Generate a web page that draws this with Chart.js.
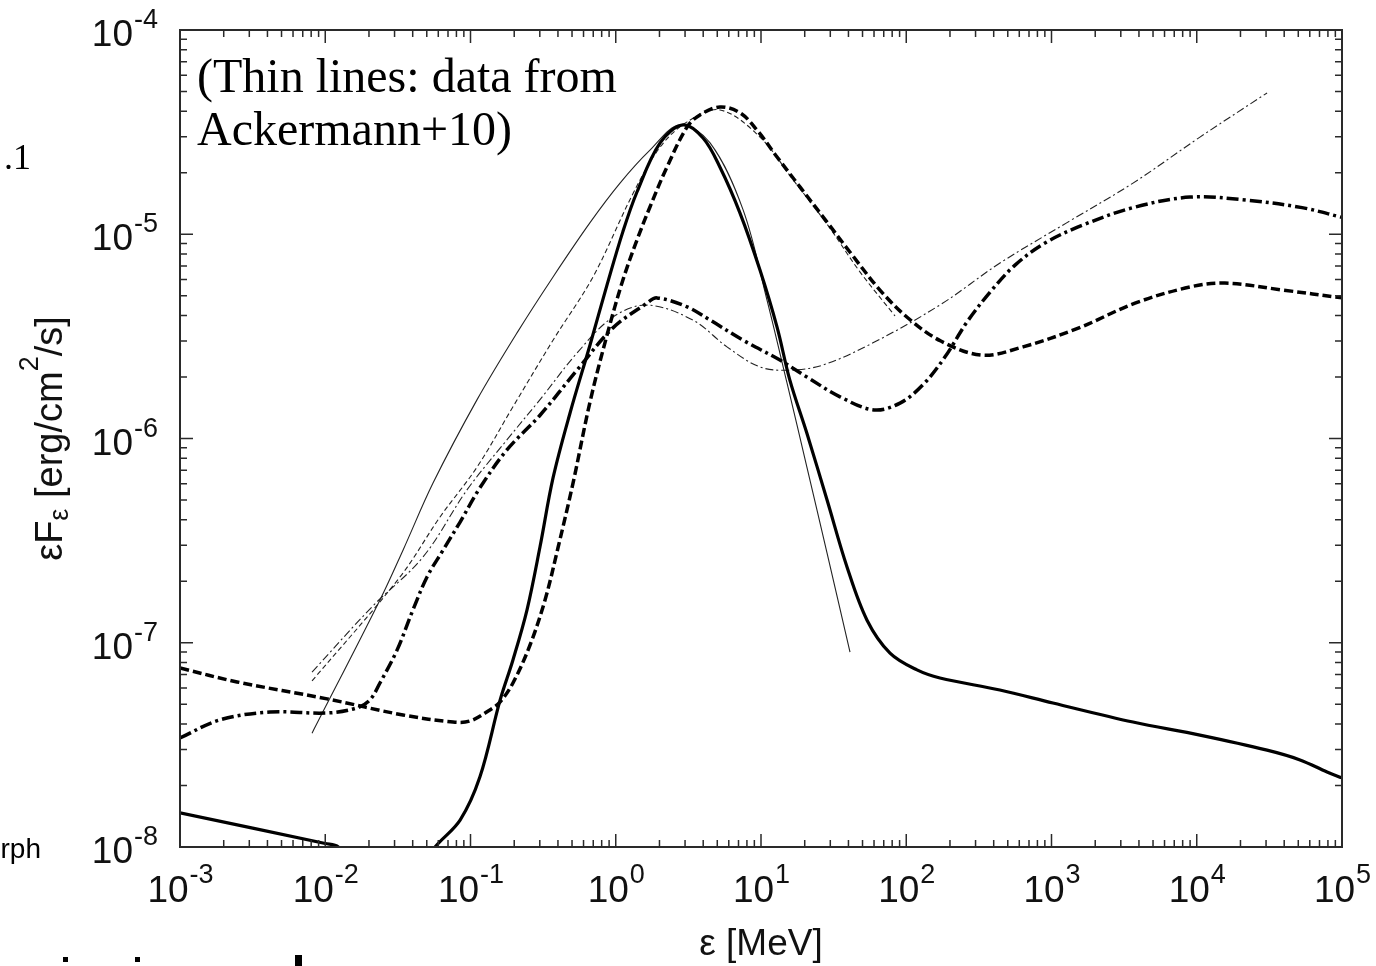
<!DOCTYPE html>
<html>
<head>
<meta charset="utf-8">
<script src="https://cdn.jsdelivr.net/npm/chart.js@4.4.1/dist/chart.umd.min.js"></script>
<style>
  html, body { margin: 0; padding: 0; background: #fff; }
  canvas { display: block; }
</style>
</head>
<body>
<canvas id="sed" width="1376" height="966"></canvas>
<script>
// Photon spectra eF_e vs e (MeV). Thick = model, thin = data (Ackermann+10).

// thick solid
const E_MODEL_A = [1e-3, 0.01, 0.0123, 0.025, 0.04, 0.057, 0.0848, 0.116, 0.16, 0.196, 0.245, 0.301, 0.37, 0.484, 0.665, 0.871, 1.12, 1.40, 2.02, 2.9, 3.99, 5.22, 7.17, 9.84, 12.9, 15.8, 20.7, 28.5, 39.1, 53.7, 77.3, 118.6, 170.6, 441, 1023, 3640, 10520, 30480, 51400, 78900, 1e5];
const F_MODEL_A = [1.47e-8, 1.04e-8, 1.0e-8, 6e-9, 7e-9, 1.0e-8, 1.355e-8, 2.2e-8, 5.25e-8, 8.24e-8, 1.45e-7, 2.95e-7, 6.41e-7, 1.33e-6, 2.87e-6, 5.65e-6, 1.03e-5, 1.61e-5, 2.8e-5, 3.43e-5, 2.96e-5, 2.13e-5, 1.27e-5, 6.68e-6, 3.51e-6, 1.93e-6, 1.06e-6, 5.0e-7, 2.35e-7, 1.29e-7, 8.9e-8, 7.36e-8, 6.72e-8, 5.87e-8, 5.07e-8, 4.09e-8, 3.53e-8, 2.98e-8, 2.67e-8, 2.33e-8, 2.18e-8];

// thick dashed
const E_MODEL_B = [1e-3, 0.00247, 0.0103, 0.0343, 0.0759, 0.0993, 0.136, 0.16, 0.196, 0.257, 0.326, 0.400, 0.508, 0.665, 0.871, 1.12, 1.40, 1.72, 2.25, 3.10, 3.80, 5.22, 7.17, 9.37, 12.9, 18.6, 28.4, 43.0, 65.9, 102.8, 173, 333, 637, 1545, 3758, 8995, 15630, 39260, 1e5];
const F_MODEL_B = [7.52e-8, 6.43e-8, 5.31e-8, 4.43e-8, 4.09e-8, 4.14e-8, 4.69e-8, 5.13e-8, 6.35e-8, 9.75e-8, 1.62e-7, 2.91e-7, 6.05e-7, 1.51e-6, 3.21e-6, 5.97e-6, 9.37e-6, 1.36e-5, 2.13e-5, 3.35e-5, 3.84e-5, 4.2e-5, 3.93e-5, 3.24e-5, 2.39e-5, 1.70e-5, 1.15e-5, 7.82e-6, 5.33e-6, 3.89e-6, 3.0e-6, 2.56e-6, 2.81e-6, 3.48e-6, 4.60e-6, 5.52e-6, 5.77e-6, 5.33e-6, 4.88e-6];

// thick dash-dot
const E_MODEL_C = [1e-3, 0.00188, 0.00417, 0.0103, 0.01656, 0.0203, 0.0238, 0.0312, 0.0402, 0.0502, 0.0647, 0.0848, 0.116, 0.178, 0.301, 0.541, 0.957, 1.64, 1.92, 3.10, 4.46, 7.52, 13.5, 20.7, 35.0, 60.0, 90.6, 130, 185, 262, 378, 561, 902, 1648, 3640, 8995, 21830, 53090, 1e5];
const F_MODEL_C = [3.42e-8, 4.19e-8, 4.58e-8, 4.53e-8, 4.80e-8, 5.25e-8, 6.35e-8, 9.2e-8, 1.45e-7, 2.10e-7, 2.84e-7, 3.90e-7, 5.73e-7, 8.79e-7, 1.30e-6, 2.16e-6, 3.48e-6, 4.60e-6, 4.88e-6, 4.41e-6, 3.80e-6, 3.03e-6, 2.42e-6, 2.0e-6, 1.60e-6, 1.38e-6, 1.49e-6, 1.83e-6, 2.51e-6, 3.72e-6, 5.21e-6, 7.06e-6, 9.06e-6, 1.11e-5, 1.35e-5, 1.52e-5, 1.47e-5, 1.35e-5, 1.21e-5];

// thin solid (data)
const E_DATA_A = [0.00811, 0.0238, 0.0343, 0.0552, 0.111, 0.209, 0.37, 0.665, 1.07, 1.72, 2.77, 4.46, 7.52, 11.0, 15.1, 20.7, 28.5, 41.0];
const F_DATA_A = [3.61e-8, 1.62e-7, 2.84e-7, 6.05e-7, 1.55e-6, 3.29e-6, 6.18e-6, 1.14e-5, 1.78e-5, 2.58e-5, 3.43e-5, 2.8e-5, 1.32e-5, 4.76e-6, 1.87e-6, 7.25e-7, 2.75e-7, 9.0e-8];

// thin dashed (data)
const E_DATA_B = [0.00811, 0.0327, 0.0617, 0.111, 0.196, 0.37, 0.697, 1.32, 2.02, 3.10, 5.22, 9.84, 16.6, 28.5, 48.1, 83.7];
const F_DATA_B = [6.5e-8, 2.10e-7, 4.13e-7, 7.25e-7, 1.43e-6, 3.03e-6, 6.18e-6, 1.59e-5, 2.67e-5, 3.55e-5, 4.06e-5, 2.99e-5, 1.85e-5, 1.12e-5, 6.53e-6, 3.98e-6];

// thin dash-dot (data)
const E_DATA_C = [0.00811, 0.021, 0.0471, 0.0946, 0.178, 0.301, 0.541, 0.957, 1.64, 3.40, 5.83, 9.84, 15.8, 26.7, 59.0, 171, 442, 1279, 3640, 10520, 30480];
const F_DATA_C = [7.19e-8, 1.5e-7, 2.63e-7, 5.6e-7, 9.84e-7, 1.55e-6, 2.62e-6, 3.93e-6, 4.5e-6, 3.80e-6, 2.81e-6, 2.24e-6, 2.16e-6, 2.29e-6, 2.94e-6, 4.51e-6, 7.23e-6, 1.14e-5, 1.78e-5, 2.99e-5, 4.92e-5];

const X_TICK_EXP = ["-3", "-2", "-1", "0", "1", "2", "3", "4", "5"];
const Y_TICK_EXP = ["-8", "-7", "-6", "-5", "-4"];

const SANS = '"Liberation Sans", Arial, sans-serif';
const SERIF = '"Liberation Serif", "Times New Roman", serif';
const INK = "#000";
const FRAME = "#2a2a2a";

const pts = (E, F) => E.map((e, i) => ({ x: e, y: F[i] }));

function line(E, F, width, dash, color) {
  return { data: pts(E, F), borderColor: color || INK, borderWidth: width, borderDash: dash || [], pointRadius: 0 };
}

// "10" with a raised exponent; align = "center" | "right"
function drawPow(ctx, exp, x, baseY, supY, align) {
  const fBase = "37px " + SANS, fSup = "27px " + SANS;
  ctx.font = fBase; const wb = ctx.measureText("10").width;
  ctx.font = fSup;  const ws = ctx.measureText(exp).width;
  const left = align === "center" ? x - (wb + ws) / 2 : x - wb - ws;
  ctx.textAlign = "left"; ctx.textBaseline = "alphabetic";
  ctx.font = fBase; ctx.fillText("10", left, baseY);
  ctx.font = fSup;  ctx.fillText(exp, left + wb + 1, supY);
}

// runs of {t, size, dy} laid out along a baseline, centred on 0
function drawRuns(ctx, runs, font) {
  let total = 0;
  for (const r of runs) { ctx.font = r.size + "px " + font; r.w = ctx.measureText(r.t).width; total += r.w; }
  let cx = -total / 2;
  ctx.textAlign = "left"; ctx.textBaseline = "alphabetic";
  for (const r of runs) { ctx.font = r.size + "px " + font; ctx.fillText(r.t, cx, r.dy); cx += r.w; }
}

const frame = {
  id: "frame",
  afterDatasetsDraw(chart) {
    const { ctx, chartArea: a, scales: { x, y } } = chart;
    ctx.save();

    // minor + major ticks, inward on all four sides
    ctx.strokeStyle = FRAME; ctx.lineWidth = 1.5;
    ctx.beginPath();
    for (const e of X_TICK_EXP) {
      const d = Math.pow(10, Number(e));
      for (let k = 1; k < 10; k++) {
        const v = k * d;
        if (v > x.max * 1.0001) break;
        const px = x.getPixelForValue(v);
        const len = k === 1 ? 13 : 7;
        ctx.moveTo(px, a.bottom); ctx.lineTo(px, a.bottom - len);
        ctx.moveTo(px, a.top); ctx.lineTo(px, a.top + len);
      }
    }
    for (const e of Y_TICK_EXP) {
      const d = Math.pow(10, Number(e));
      for (let k = 1; k < 10; k++) {
        const v = k * d;
        if (v > y.max * 1.0001) break;
        const py = y.getPixelForValue(v);
        const len = k === 1 ? 13 : 7;
        ctx.moveTo(a.left, py); ctx.lineTo(a.left + len, py);
        ctx.moveTo(a.right, py); ctx.lineTo(a.right - len, py);
      }
    }
    ctx.stroke();

    ctx.lineWidth = 2;
    ctx.strokeRect(a.left, a.top, a.right - a.left, a.bottom - a.top);

    // tick labels
    ctx.fillStyle = "#111";
    for (const e of X_TICK_EXP) {
      const px = x.getPixelForValue(Math.pow(10, Number(e)));
      drawPow(ctx, e, px, a.bottom + 55, a.bottom + 36, "center");
    }
    for (const e of Y_TICK_EXP) {
      const py = y.getPixelForValue(Math.pow(10, Number(e)));
      drawPow(ctx, e, a.left - 23, py + 16, py - 2, "right");
    }

    // axis titles
    ctx.save();
    ctx.translate((a.left + a.right) / 2, 955);
    drawRuns(ctx, [{ t: "\u03b5 [MeV]", size: 37, dy: 0 }], SANS);
    ctx.restore();

    ctx.save();
    ctx.translate(62, (a.top + a.bottom) / 2);
    ctx.rotate(-Math.PI / 2);
    drawRuns(ctx, [
      { t: "\u03b5F", size: 38, dy: 0 },
      { t: "\u03b5", size: 27, dy: 6 },
      { t: " [erg/cm", size: 38, dy: 0 },
      { t: "2", size: 27, dy: -24 },
      { t: "/s]", size: 38, dy: 0 }
    ], SANS);
    ctx.restore();

    // note in the upper left of the plot
    ctx.fillStyle = INK;
    ctx.textAlign = "left";
    ctx.font = "48px " + SERIF;
    ctx.fillText("(Thin lines: data from", a.left + 17, 92);
    ctx.fillText("Ackermann+10)", a.left + 17, 145);

    // fragments of the surrounding page, cut off at the left edge
    ctx.textAlign = "right";
    ctx.font = "36px " + SERIF;
    ctx.fillText(".1", 31, 169);
    ctx.font = "28px " + SANS;
    ctx.fillText("rph", 41, 858);
    ctx.fillRect(63, 957, 5, 5);
    ctx.fillRect(135, 957, 5, 5);
    ctx.fillRect(295, 955, 7, 11);

    ctx.restore();
  }
};

new Chart(document.getElementById("sed"), {
  type: "line",
  data: {
    datasets: [
      line(E_MODEL_A, F_MODEL_A, 3.2),
      line(E_MODEL_B, F_MODEL_B, 3.5, [9, 4]),
      line(E_MODEL_C, F_MODEL_C, 3.5, [12, 4, 3, 4]),
      line(E_DATA_A, F_DATA_A, 1.1, [], "#222"),
      line(E_DATA_B, F_DATA_B, 1.1, [5, 3], "#222"),
      line(E_DATA_C, F_DATA_C, 1.1, [8, 3, 2, 3], "#222")
    ]
  },
  options: {
    responsive: false,
    animation: false,
    devicePixelRatio: 1,
    layout: { padding: { left: 180, right: 34, top: 30, bottom: 119 } },
    plugins: { legend: { display: false }, tooltip: { enabled: false } },
    elements: { line: { tension: 0.35, fill: false } },
    scales: {
      x: { type: "logarithmic", min: 1e-3, max: 1e5, display: false },
      y: { type: "logarithmic", min: 1e-8, max: 1e-4, display: false }
    }
  },
  plugins: [frame]
});
</script>
</body>
</html>
